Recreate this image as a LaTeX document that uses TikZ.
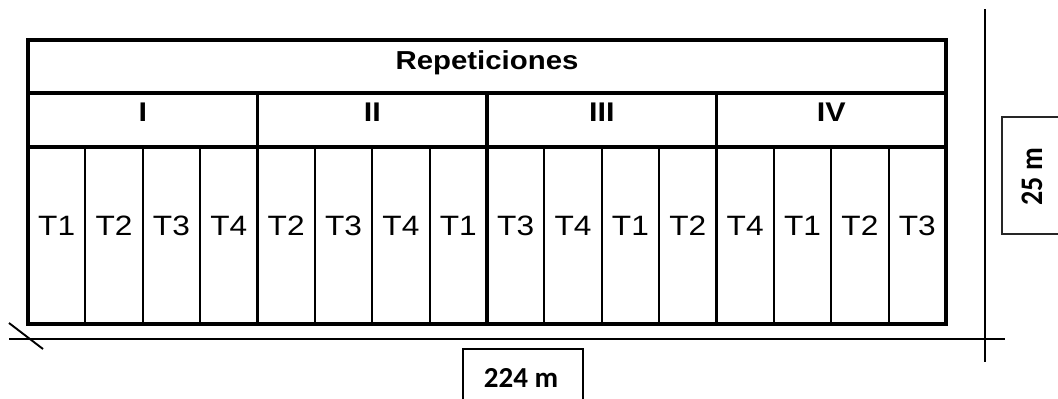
\documentclass[tikz,border=0pt]{standalone}
\usepackage{graphicx}
\usepackage{fontspec}
\setmainfont{Liberation Sans}
\newfontfamily\calib{Carlito}
\newcommand{\wide}[1]{\scalebox{1.13}[1]{#1}}
\begin{document}
\begin{tikzpicture}[x=1pt,y=-1pt,
  thickline/.style={line width=3.2pt},
  thinline/.style={line width=2.1pt},
  boxline/.style={line width=1.3pt},
  axisline/.style={line width=1.9pt},
  tlabel/.style={font=\fontsize{28}{30}\selectfont, inner sep=0pt, anchor=base},
  glabel/.style={font=\fontsize{27}{30}\selectfont\bfseries, inner sep=0pt, anchor=base},
  hlabel/.style={font=\fontsize{26}{30}\selectfont\bfseries, inner sep=0pt, anchor=base},
  dimlabel/.style={font=\calib\fontsize{29}{30}\selectfont\bfseries, inner sep=0pt}]
\useasboundingbox (0,0) rectangle (1058,399);
% thin sub-column lines
\foreach \i in {1,2,3,5,6,7,9,10,11,13,14,15}{
  \draw[thinline] ({28+57.375*\i},147) -- ({28+57.375*\i},324);
}
% thick group dividers
\foreach \i in {4,8,12}{
  \draw[thickline] ({28+57.375*\i},93) -- ({28+57.375*\i},324);
}
\draw[thickline] (28,93) -- (946,93);
\draw[thickline] (28,147) -- (946,147);
\draw[thickline] (28,40) rectangle (946,324);
% labels
\node[hlabel] (rep) at (487,69.3) {\wide{Repeticiones}};
\node[glabel] (g1) at (142.75,121.7) {\wide{I}};
\node[glabel] (g2) at (372.25,121.7) {\wide{II}};
\node[glabel] (g3) at (601.75,121.7) {\wide{III}};
\node[glabel] (g4) at (831.25,121.7) {\wide{IV}};
\foreach \t [count=\i from 0] in {T1,T2,T3,T4,T2,T3,T4,T1,T3,T4,T1,T2,T4,T1,T2,T3}{
  \node[tlabel] (t\i) at ({28+57.375*\i+28.69},235.3) {\wide{\t}};
}
% axis lines
\coordinate (hl) at (9,339);
\coordinate (hr) at (1005,339);
\coordinate (vt) at (985,9);
\coordinate (vb) at (985,362);
\coordinate (s1) at (9,323);
\coordinate (s2) at (43,349);
\draw[axisline] (hl) -- (hr);
\draw[axisline] (vt) -- (vb);
\draw[axisline] (s1) -- (s2);
% dimension boxes
\draw[boxline] (463,400) -- (463,349) -- (583,349) -- (583,400);
\node[dimlabel, anchor=base] (d224) at (521,387.3) {224 m};
\draw[boxline, black!85] (1059,117) -- (1002,117) -- (1002,234) -- (1059,234);
\node[dimlabel, rotate=90] (d25) at (1032,176.5) {\scalebox{1}[1.12]{\fontsize{28}{30}\selectfont 25 m}};
\end{tikzpicture}
\end{document}
